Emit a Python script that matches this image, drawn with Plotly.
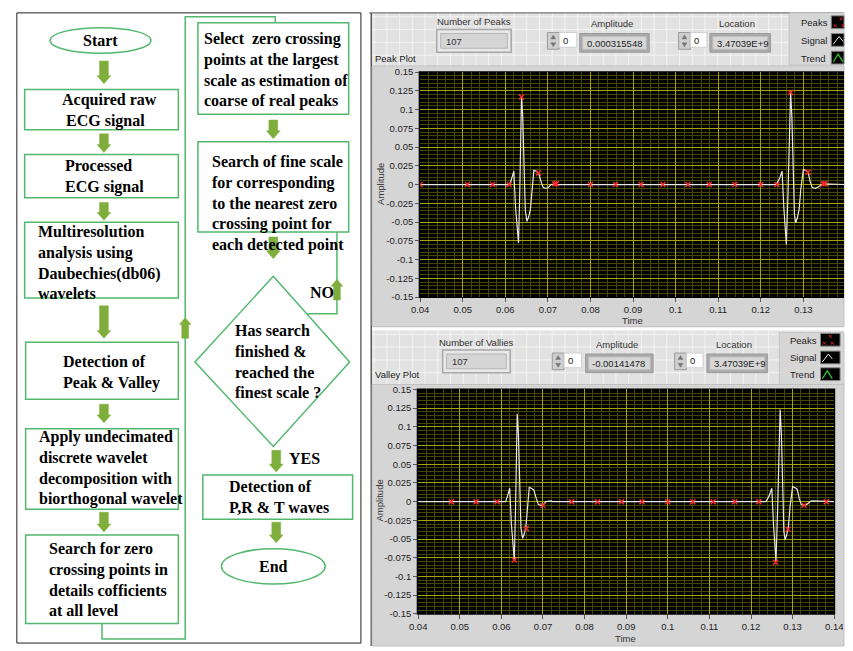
import plotly.graph_objects as go

# ---------------- data ----------------
sig_t = [0.0400, 0.0610, 0.0614, 0.0620, 0.0624, 0.0628, 0.0631, 0.0634, 0.0638, 0.0641,
         0.0644, 0.0647, 0.0651, 0.0655, 0.0659, 0.0663, 0.0667, 0.0672, 0.0678, 0.0684,
         0.0689, 0.0695, 0.0701, 0.0707, 0.0713, 0.0719, 0.0723,
         0.1236, 0.1244, 0.1250, 0.1254, 0.1257, 0.1260, 0.1264, 0.1270, 0.1273, 0.1276,
         0.1279, 0.1282, 0.1286, 0.1290, 0.1294, 0.1300, 0.1305, 0.1311, 0.1316, 0.1321,
         0.1328, 0.1336, 0.1342, 0.1347, 0.1351, 0.1356, 0.1400]
sig_v = [0.0, 0.0, 0.006, 0.018, -0.030, -0.060, -0.078, -0.010, 0.117, 0.090,
         0.010, -0.035, -0.049, -0.043, -0.033, -0.005, 0.019, 0.018, 0.0155, 0.004,
         -0.004, -0.005, -0.004, 0.0, 0.001, 0.001, 0.0,
         0.0, 0.008, 0.018, -0.030, -0.060, -0.080, -0.010, 0.123, 0.090, 0.010,
         -0.040, -0.051, -0.044, -0.033, -0.006, 0.020, 0.019, 0.0166, 0.004, -0.004,
         -0.005, -0.003, 0.0, 0.001, 0.001, 0.0, 0.0]

peak_t = [0.0400, 0.0511, 0.0570, 0.0609, 0.0638, 0.0678, 0.0716, 0.0720, 0.0800, 0.0859,
          0.0919, 0.0970, 0.1029, 0.1079, 0.1139, 0.1200, 0.1238, 0.1270, 0.1311, 0.1347, 0.1351]
peak_v = [0.0, 0.0, 0.0, 0.0, 0.117, 0.0155, 0.001, 0.001, 0.0, 0.0,
          0.0, 0.0, 0.0, 0.0, 0.0, 0.0, 0.0, 0.123, 0.0166, 0.001, 0.001]

valley_t = [0.0480, 0.0539, 0.0590, 0.0631, 0.0660, 0.0700, 0.0769, 0.0831, 0.0889, 0.0938,
            0.1000, 0.1060, 0.1109, 0.1161, 0.1219, 0.1259, 0.1289, 0.1328, 0.1381]
valley_v = [0.0, 0.0, 0.0, -0.078, -0.036, -0.005, 0.0, 0.0, 0.0, 0.0,
            0.0, 0.0, 0.0, 0.0, 0.0, -0.081, -0.037, -0.005, 0.0]

x_tick_vals = [0.04, 0.05, 0.06, 0.07, 0.08, 0.09, 0.10, 0.11, 0.12, 0.13, 0.14]
x_tick_text = ["0.04", "0.05", "0.06", "0.07", "0.08", "0.09", "0.1", "0.11", "0.12", "0.13", "0.14"]
y_tick_vals = [0.15, 0.125, 0.1, 0.075, 0.05, 0.025, 0, -0.025, -0.05, -0.075, -0.1, -0.125, -0.15]
y_tick_text = ["0.15", "0.125", "0.1", "0.075", "0.05", "0.025", "0", "-0.025", "-0.05",
               "-0.075", "-0.1", "-0.125", "-0.15"]

peak_info = {"count": "107", "amp": "0.000315548", "loc": "3.47039E+9"}
valley_info = {"count": "107", "amp": "-0.00141478", "loc": "3.47039E+9"}

# ---------------- geometry helpers ----------------
W, H = 853, 651


def px(x):
    return min(x, W) / W


def py(y):
    return 1 - y / H


shapes = []
anns = []


def rect(x0, y0, x1, y1, fill="rgba(0,0,0,0)", line="rgba(0,0,0,0)", lw=1, layer="below"):
    shapes.append(dict(type="rect", xref="paper", yref="paper", x0=px(x0), x1=px(x1),
                       y0=py(y1), y1=py(y0), fillcolor=fill,
                       line=dict(color=line, width=lw), layer=layer))


def ellipse(x0, y0, x1, y1, line, lw=1.5, fill="white"):
    shapes.append(dict(type="circle", xref="paper", yref="paper", x0=px(x0), x1=px(x1),
                       y0=py(y1), y1=py(y0), fillcolor=fill,
                       line=dict(color=line, width=lw), layer="below"))


def poly(pts, line="rgba(0,0,0,0)", lw=1, fill=None, closed=False, layer="below"):
    p = "M " + " L ".join(f"{px(x):.5f},{py(y):.5f}" for x, y in pts)
    if closed:
        p += " Z"
    d = dict(type="path", xref="paper", yref="paper", path=p,
             line=dict(color=line, width=lw), layer=layer)
    if fill:
        d["fillcolor"] = fill
    shapes.append(d)


def multi_lines(segs, color, lw=1):
    p = " ".join(f"M {px(a):.5f},{py(b):.5f} L {px(c):.5f},{py(d):.5f}" for a, b, c, d in segs)
    shapes.append(dict(type="path", xref="paper", yref="paper", path=p,
                       line=dict(color=color, width=lw), layer="below"))


def text(x, y, s, size=16, family="Liberation Serif", xanchor="left", yanchor="middle",
         color="black", align="left", angle=0):
    anns.append(dict(x=px(x), y=py(y), xref="paper", yref="paper", text=s, showarrow=False,
                     xanchor=xanchor, yanchor=yanchor, align=align, textangle=angle,
                     font=dict(size=size, family=family, color=color)))


GREEN_LINE = "#52b86e"
ARROW = "#7fae3c"


def arrow_down(x, y0, y1):
    hw, sw, hl = 7, 4.5, 8
    poly([(x - sw, y0), (x + sw, y0), (x + sw, y1 - hl), (x + hw, y1 - hl), (x, y1),
          (x - hw, y1 - hl), (x - sw, y1 - hl)], line=ARROW, lw=0.5, fill=ARROW, closed=True)


def arrow_up(x, y0, y1):  # y0 bottom, y1 tip (top)
    hw, sw, hl = 6, 3.5, 7
    poly([(x - sw, y0), (x + sw, y0), (x + sw, y1 + hl), (x + hw, y1 + hl), (x, y1),
          (x - hw, y1 + hl), (x - sw, y1 + hl)], line=ARROW, lw=0.5, fill=ARROW, closed=True)


# ---------------- left flowchart ----------------
rect(8, 7, 359.5, 648, fill="white", line="#222", lw=1)

poly([(95, 628), (95, 644), (180, 644), (180, 11), (272, 11), (272, 17)], line=GREEN_LINE, lw=1.5)
poly([(304, 313), (335, 313), (335, 230)], line=GREEN_LINE, lw=1.5)

ellipse(42, 22, 145, 48, GREEN_LINE)
ellipse(217, 552, 323, 588, GREEN_LINE)
boxes = [(16, 85, 173, 126), (16, 151, 173, 195), (16, 220, 173, 297), (17, 342, 173, 400),
         (17, 430, 173, 512), (17, 538, 173, 628), (193, 17, 347, 110), (193, 138, 347, 230),
         (198, 477, 351, 522)]
for b in boxes:
    rect(*b, fill="white", line=GREEN_LINE, lw=1.5)
poly([(270, 275), (348, 362), (270, 448), (190, 362)], line=GREEN_LINE, lw=1.5, fill="white",
     closed=True)

for (x, a, b) in [(97, 56, 79), (97, 130, 149), (97, 200, 218), (97, 305, 338), (97, 405, 424),
                  (97, 515, 535), (270, 116, 135), (270, 235, 257), (273, 452, 474),
                  (273, 525, 546)]:
    arrow_down(x, a, b)
arrow_up(180, 338, 317)
arrow_up(335, 299, 278)

B = lambda lines: "<b>" + "<br>".join(lines) + "</b>"
text(93, 35, B(["Start"]), xanchor="center")
text(52, 106, B(["Acquired raw", " ECG signal"]))
text(55, 173, B(["Processed", "ECG signal"]))
text(28, 261, B(["Multiresolution", "analysis using", "Daubechies(db06)", "wavelets"]))
text(53, 373, B(["Detection of", "Peak & Valley"]))
text(29, 470, B(["Apply undecimated", "discrete wavelet", "decomposition with",
                 "biorthogonal wavelet"]))
text(39, 583, B(["Search for zero", "crossing points in", "details cofficients",
                 "at all level"]))
text(197, 65, B(["Select  zero crossing", "points at the largest", "scale as estimation of",
                 "coarse of real peaks"]))
text(205, 201, B(["Search of fine scale", "for corresponding", "to the nearest zero",
                  "crossing point for", "each detected point"]))
text(229, 362, B(["Has search", "finished &", "reached the", "finest scale ?"]))
text(223, 499, B(["Detection of", "P,R & T waves"]))
text(270, 570, B(["End"]), xanchor="center")
text(305, 291, B(["NO"]))
text(284, 460, B(["YES"]))

# ---------------- LabVIEW panels ----------------
LBL = "Liberation Sans"
PANEL_BG = "#e2e2e2"
GRID_BG = "#f3f3f3"
FRAME = "#d5d5d5"


def panel(y0, y1):
    rect(370, y0, 853, y1, fill=PANEL_BG, line="rgba(0,0,0,0)")
    segs = []
    gx = 373
    while gx < 853:
        segs.append((gx, y0, gx, y1))
        gx += 13
    gy = y0 + 4
    while gy < y1:
        segs.append((370, gy, 853, gy))
        gy += 13
    multi_lines(segs, GRID_BG, 1)


panel(7, 327)
panel(330, 651)
multi_lines([(368, 7, 853, 7)], "#555", 1)
multi_lines([(370, 7, 370, 651)], "#333", 1.2)


def spinner(x0, y0, x1, y1):
    rect(x0, y0, x1, y1, fill="#cfcfcf", line="#9a9a9a", lw=1)
    cx = (x0 + x1) / 2
    cy = (y0 + y1) / 2
    poly([(cx - 2.5, cy - 2), (cx + 2.5, cy - 2), (cx, cy - 6)], fill="#777", line="#777",
         lw=0.5, closed=True)
    poly([(cx - 2.5, cy + 2), (cx + 2.5, cy + 2), (cx, cy + 6)], fill="#777", line="#777",
         lw=0.5, closed=True)


def display(x0, y0, x1, y1, s):
    rect(x0, y0, x1, y1, fill="#a9a9a9", line="#9c9c9c", lw=1)
    rect(x0 + 3, y0 + 3, x1 - 3, y1 - 3, fill="#d7d7d7", line="#bdbdbd", lw=1)
    text(x0 + 5, (y0 + y1) / 2 + 0.5, s, size=9.5, family=LBL, color="#222")


def legend_box(x0, y0, x1, y1, label_x, icon_x0, ys):
    rect(x0, y0, x1, y1, fill="#d6d6d6", line="#c4c4c4", lw=1)
    for lab, yy in zip(["Peaks", "Signal", "Trend"], ys):
        text(label_x, yy, lab, size=9.5, family=LBL, color="#222")
        rect(icon_x0, yy - 7, icon_x0 + 20, yy + 6, fill="black", line="#888", lw=1)
    i0 = icon_x0
    y_p, y_s, y_t = ys
    for (cx, cy) in [(i0 + 10, y_p - 4), (i0 + 4, y_p + 3), (i0 + 12, y_p + 3)]:
        multi_lines([(cx - 1.5, cy - 1.5, cx + 1.5, cy + 1.5), (cx - 1.5, cy + 1.5, cx + 1.5, cy - 1.5)],
                    "#e02020", 1)
    poly([(i0 + 2, y_s + 4), (i0 + 8, y_s - 4), (i0 + 12, y_s + 1)], line="#e8e8e8", lw=1)
    poly([(i0 + 2, y_t + 4), (i0 + 7, y_t - 4), (i0 + 12, y_t + 4)], line="#2ecc2e", lw=1.2)


def header(y_off, title_lbl, info, xs, plot_label, plot_label_y, legend):
    (lx0, lx1, ax_sp, ax0, ax1, locsp, loc0, loc1) = xs
    text((lx0 + lx1) / 2, y_off + 9, title_lbl, size=9.5, family=LBL, color="#333",
         xanchor="center")
    rect(lx0, y_off + 17, lx1, y_off + 40, fill="#e8e8e8", line="#a8a8a8", lw=1.5)
    rect(lx0 + 4, y_off + 21, lx1 - 4, y_off + 36, fill="#d5d5d5", line="#b5b5b5", lw=1)
    text(lx0 + 7, y_off + 29, info["count"], size=9.5, family=LBL, color="#333")
    text((ax0 + ax1) / 2 - 2, y_off + 11, "Amplitude", size=9.5, family=LBL, color="#333",
         xanchor="center")
    spinner(ax_sp, y_off + 20, ax_sp + 12, y_off + 37)
    rect(ax_sp + 12, y_off + 20, ax_sp + 30, y_off + 35, fill="white", line="#cfcfcf", lw=1)
    text(ax_sp + 14, y_off + 28, "0", size=9.5, family=LBL, color="#222")
    display(ax0, y_off + 21, ax1, y_off + 40, info["amp"])
    text((loc0 + loc1) / 2 - 3, y_off + 11, "Location", size=9.5, family=LBL, color="#333",
         xanchor="center")
    spinner(locsp, y_off + 20, locsp + 12, y_off + 37)
    rect(locsp + 12, y_off + 20, locsp + 29, y_off + 35, fill="white", line="#cfcfcf", lw=1)
    text(locsp + 14, y_off + 28, "0", size=9.5, family=LBL, color="#222")
    display(loc0, y_off + 21, loc1, y_off + 40, info["loc"])
    text(372, plot_label_y, plot_label, size=9.5, family=LBL, color="#222")
    legend_box(*legend)


header(7, "Number of Peaks", peak_info, (437, 513, 550, 583, 654, 684, 716, 778),
       "Peak Plot", 53, (797, 7, 853, 60, 807, 840, (17, 35, 53)))
header(333, "Number of Vallies", valley_info, (443, 512, 555, 589, 658, 680, 713, 775),
       "Valley Plot", 375, (787, 332, 853, 386, 796, 829, (340, 358, 375)))

rect(371, 61, 853, 326, fill=FRAME, line="#c2c2c2", lw=1)
rect(371, 385, 853, 651, fill=FRAME, line="#c2c2c2", lw=1)

P1 = (420, 67.3, 853, 296)
P2 = (418, 390, 843, 618.3)
rect(P1[0] - 1.5, P1[1] - 1, P1[2], P1[3] + 1, fill="black", line="black", lw=0)
rect(P2[0] - 1.5, P2[1] - 1, P2[2] + 1, P2[3] + 1, fill="black", line="black", lw=0)

text(380, 181, "Amplitude", size=9.5, family=LBL, color="#333", xanchor="center", angle=-90)
text(637, 320, "Time", size=9.5, family=LBL, color="#333", xanchor="center")
text(378, 503, "Amplitude", size=9.5, family=LBL, color="#333", xanchor="center", angle=-90)
text(630, 643, "Time", size=9.5, family=LBL, color="#333", xanchor="center")

# ---------------- traces ----------------
fig = go.Figure()
for xa, ya, mt, mv in [("x", "y", peak_t, peak_v), ("x2", "y2", valley_t, valley_v)]:
    fig.add_trace(go.Scatter(x=sig_t, y=sig_v, mode="lines", xaxis=xa, yaxis=ya,
                             line=dict(color="#e6e6e6", width=1.2), hoverinfo="skip"))
    fig.add_trace(go.Scatter(x=mt, y=mv, mode="markers", xaxis=xa, yaxis=ya,
                             marker=dict(symbol="x-thin", size=5,
                                         line=dict(color="#ff2a2a", width=1.4)),
                             hoverinfo="skip"))

MAJ = "#a6a600"
MIN = "#474700"


def xax(domain, rng):
    return dict(domain=domain, range=rng, tickmode="array", tickvals=x_tick_vals,
                ticktext=x_tick_text, showgrid=True, gridcolor=MAJ, gridwidth=1,
                zeroline=False, showline=False, ticks="outside", ticklen=4, tickcolor="#555",
                tickfont=dict(family=LBL, size=9.5, color="#222"),
                minor=dict(tickmode="linear", tick0=0.04, dtick=0.002, showgrid=True,
                           gridcolor=MIN, gridwidth=1, ticks=""))


def yax(domain):
    return dict(domain=domain, range=[-0.15, 0.15], tickmode="array", tickvals=y_tick_vals,
                ticktext=y_tick_text, showgrid=True, gridcolor=MAJ, gridwidth=1,
                zeroline=False, showline=False, ticks="outside", ticklen=4, tickcolor="#555",
                tickfont=dict(family=LBL, size=9.5, color="#222"),
                minor=dict(tickmode="linear", tick0=0, dtick=0.005, showgrid=True,
                           gridcolor=MIN, gridwidth=1, ticks=""))


x1_end = 0.04 + (P1[2] - P1[0]) / 4350
fig.update_layout(
    width=W, height=H, margin=dict(l=0, r=0, t=0, b=0), autosize=False,
    paper_bgcolor="white", plot_bgcolor="rgba(0,0,0,0)", showlegend=False,
    xaxis=xax([px(P1[0]), px(P1[2])], [0.04, x1_end]) | dict(anchor="y"),
    yaxis=yax([py(P1[3]), py(P1[1])]) | dict(anchor="x"),
    xaxis2=xax([px(P2[0]), px(P2[2])], [0.04, 0.14]) | dict(anchor="y2"),
    yaxis2=yax([py(P2[3]), py(P2[1])]) | dict(anchor="x2"),
    shapes=shapes, annotations=anns,
)

fig.write_html("out.html", config={"displayModeBar": False},
               post_script="document.body.style.margin='0';document.body.style.overflow='hidden';")
